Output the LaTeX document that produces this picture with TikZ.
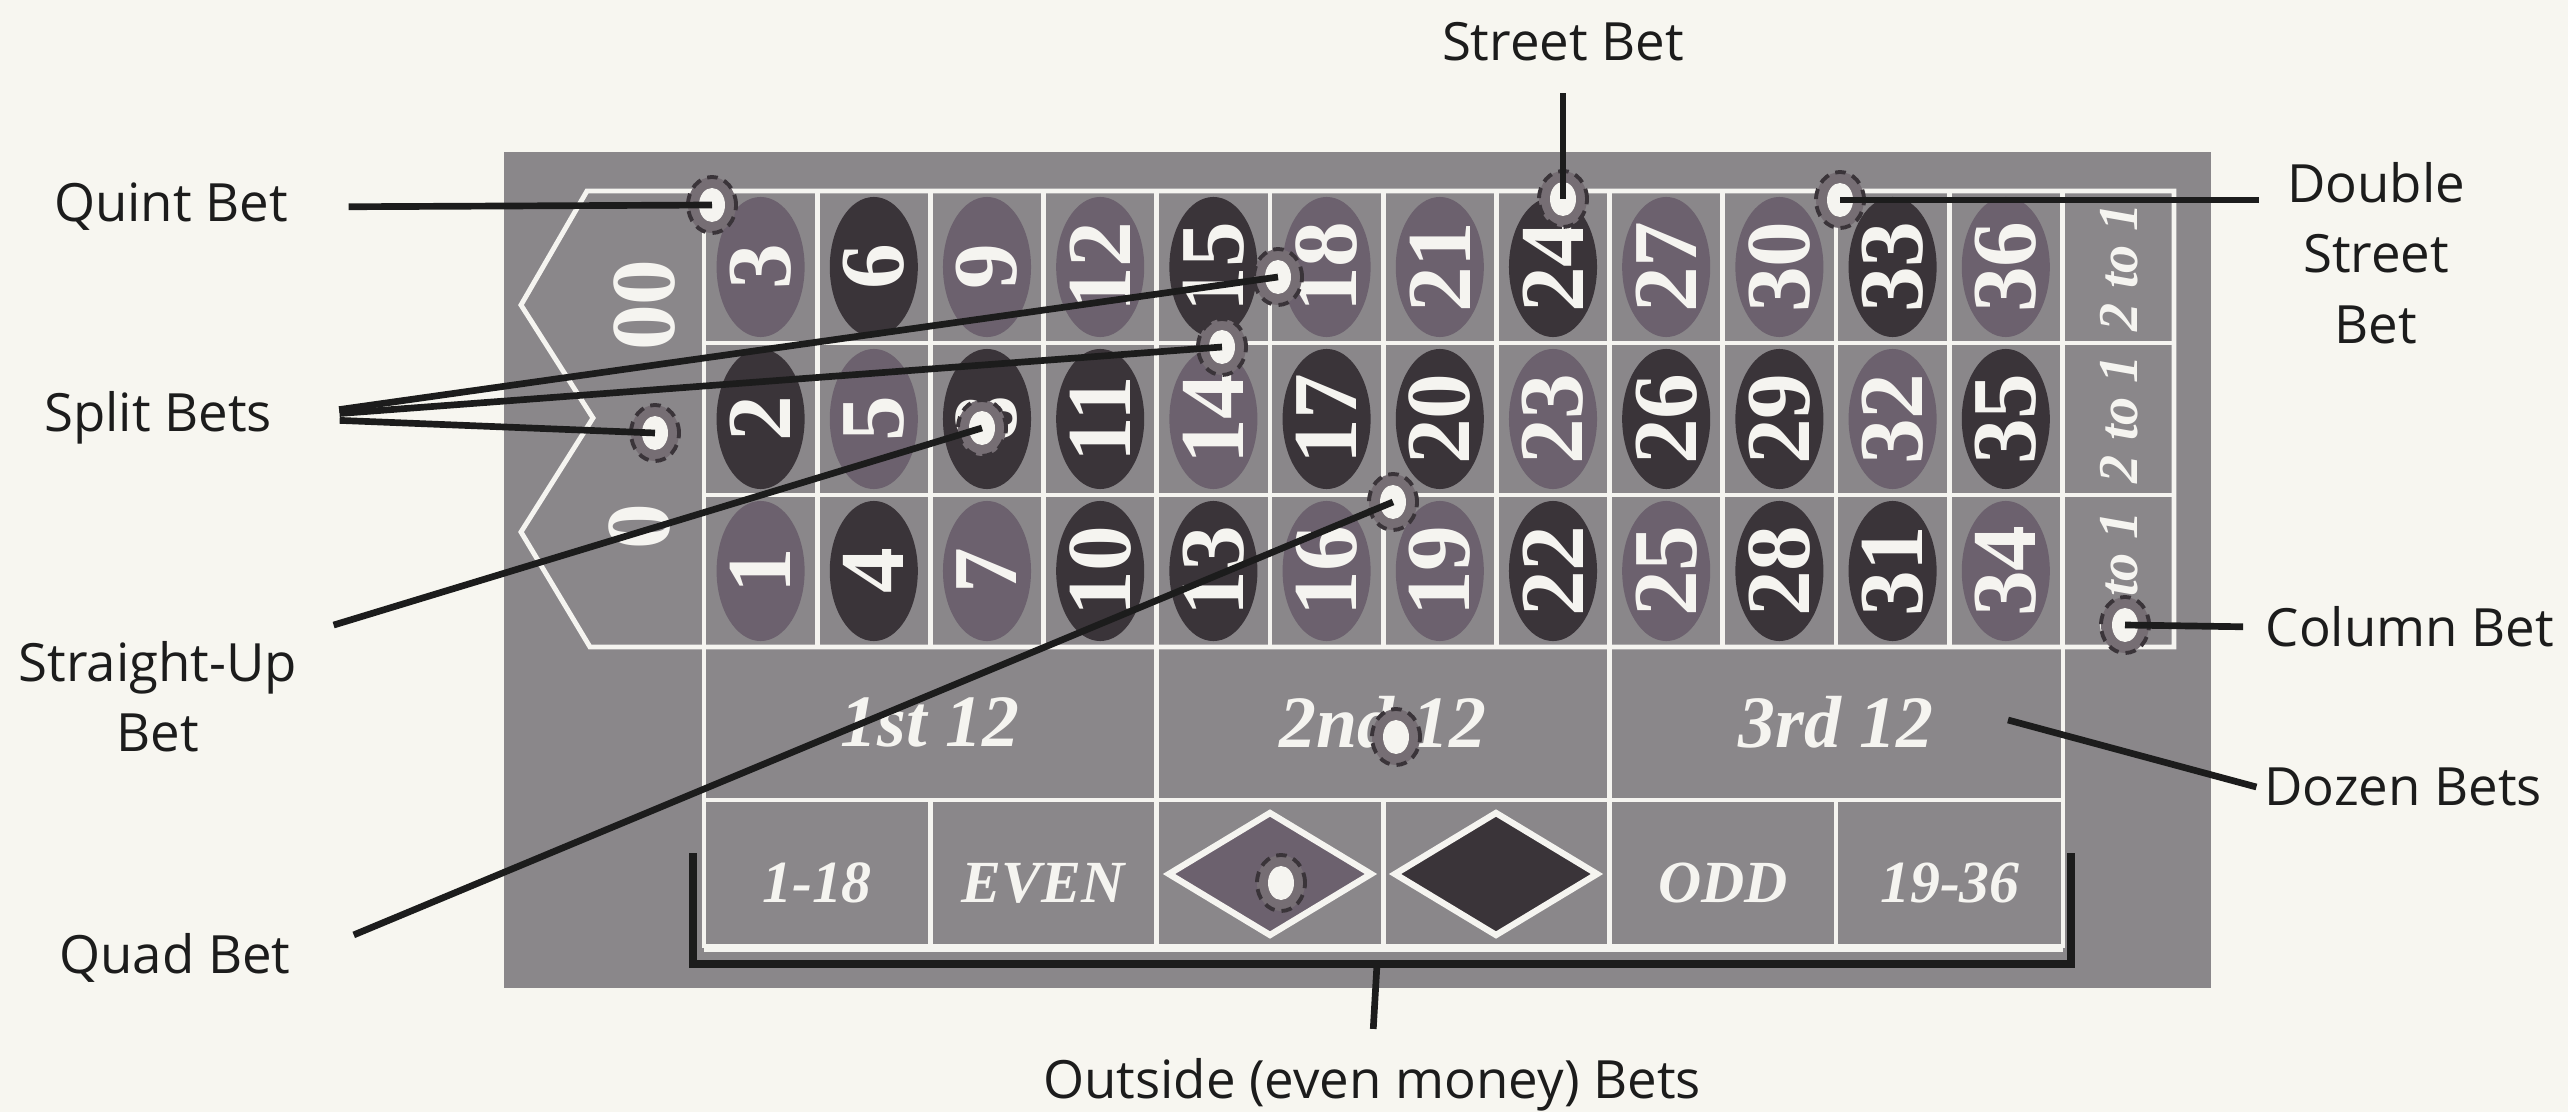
\documentclass[tikz,border=0pt]{standalone}
\usepackage{fontspec}
\setmainfont{Open Sans}
\newfontfamily\pipfont{Liberation Serif}
\usetikzlibrary{shapes.geometric}
\definecolor{paper}{RGB}{247,246,240}
\definecolor{felt}{RGB}{138,135,138}
\definecolor{redpip}{RGB}{108,97,110}
\definecolor{blackpip}{RGB}{58,52,57}
\definecolor{chalk}{RGB}{245,244,240}
\definecolor{ink}{RGB}{28,28,28}
\definecolor{chipring}{RGB}{118,110,116}

\begin{document}
\begin{tikzpicture}[x=0.01cm,y=-0.01cm,
  lbl/.style={text=ink,font=\fontsize{15}{20}\selectfont,align=center,inner sep=2pt},
  lead/.style={draw=ink,line width=1.9pt},
  chalkline/.style={draw=chalk,line width=1.4pt},
  pip/.style={ellipse,rotate=90,minimum width=1.4cm,minimum height=0.88cm,inner sep=0pt,
    text=chalk,font=\pipfont\bfseries\fontsize{26}{26}\selectfont},
  cell/.style={text=chalk,inner sep=1pt,font=\pipfont\bfseries\itshape\fontsize{#1}{#1}\selectfont},
  chip/.style={ellipse,minimum width=0.48cm,minimum height=0.56cm,inner sep=0pt,
    fill=chipring,draw=blackpip,densely dashed,line width=1.1pt,
    path picture={\fill[chalk] (path picture bounding box.center) ellipse [x radius=0.13cm,y radius=0.17cm];}}]
  \fill[paper] (0,0) rectangle (2568,1112);
  \useasboundingbox (0,0) rectangle (2568,1112);
  \fill[felt] (504,152) rectangle (2211,988);

  % zero pockets and inside grid
  \draw[chalkline,line join=miter] (2174,191) -- (587,191) -- (521,305) -- (593,418)
    -- (521,532) -- (590,647) -- (2174,647) -- cycle;
  \draw[chalkline] (704,191) -- (704,948);
  \draw[chalkline] (2063,647) -- (2063,948);
  \foreach \k in {1,...,12}
    \draw[chalkline] ({704+113.2*\k},191) -- ({704+113.2*\k},647);
  \foreach \y in {343,495}
    \draw[chalkline] (704,\y) -- (2174,\y);

  % dozens and even money rows
  \foreach \k in {1,2}
    \draw[chalkline] ({704+452.8*\k},647) -- ({704+452.8*\k},800);
  \draw[chalkline] (704,800) -- (2063,800);
  \foreach \k in {1,...,5}
    \draw[chalkline] ({704+226.4*\k},800) -- ({704+226.4*\k},948);
  \draw[chalk,line width=2.2pt] (704,948) -- (2063,948);

  % numbers
  \foreach \n/\f in {1/redpip,2/blackpip,3/redpip,4/blackpip,5/redpip,6/blackpip,
      7/redpip,8/blackpip,9/redpip,10/blackpip,11/blackpip,12/redpip,
      13/blackpip,14/redpip,15/blackpip,16/redpip,17/blackpip,18/redpip,
      19/redpip,20/blackpip,21/redpip,22/blackpip,23/redpip,24/blackpip,
      25/redpip,26/blackpip,27/redpip,28/blackpip,29/blackpip,30/redpip,
      31/blackpip,32/redpip,33/blackpip,34/redpip,35/blackpip,36/redpip} {
    \pgfmathsetmacro\px{704+113.2*(ceil(\n/3)-0.5)}
    \pgfmathsetmacro\py{571-152*mod(\n-1,3)}
    \node[pip,fill=\f] (p\n) at (\px,\py) {\n};
  }
  \node[text=chalk,rotate=90,font=\pipfont\bfseries\fontsize{26}{26}\selectfont] (z00) at (645,305) {00};
  \node[text=chalk,rotate=90,font=\pipfont\bfseries\fontsize{26}{26}\selectfont] (z0) at (640,527) {0};
  \foreach \y [count=\i] in {267,419,575}
    \node[cell=16,rotate=90] (col\i) at (2119,\y) {2 to 1};

  \node[cell=21] (d1) at (930,722) {1st 12};
  \node[cell=21] (d2) at (1383,722) {2nd 12};
  \node[cell=21] (d3) at (1836,722) {3rd 12};
  \foreach \t/\x [count=\i] in {1-18/817,EVEN/1043,ODD/1723,19-36/1950}
    \node[cell=17] (o\i) at (\x,883) {\t};
  \draw[chalk,line width=1.8pt,fill=redpip] (1270,813) -- (1371,874) -- (1270,935) -- (1169,874) -- cycle;
  \draw[chalk,line width=1.8pt,fill=blackpip] (1496,813) -- (1597,874) -- (1496,935) -- (1395,874) -- cycle;

  % chips
  \node[chip] (cquint) at (712,205) {};
  \node[chip] (cstreet) at (1563,199) {};
  \node[chip] (cdouble) at (1840,200) {};
  \node[chip] (csplita) at (1278,277) {};
  \node[chip] (csplitb) at (1222,347) {};
  \node[chip] (csplitc) at (655,433) {};
  \node[chip] (cstraight) at (982,428) {};
  \node[chip] (cquad) at (1393,502) {};
  \node[chip] (ccolumn) at (2125,625) {};
  \node[chip] (cdozen) at (1396,737) {};
  \node[chip] (ceven) at (1281,883) {};

  % labels
  \node[lbl] (lquint) at (171,207) {Quint Bet};
  \node[lbl] (lsplit) at (158,418) {Split Bets};
  \node[lbl] (lstraight) at (158,697) {Straight-Up\\Bet};
  \node[lbl] (lquad) at (175,958) {Quad Bet};
  \node[lbl] (lstreet) at (1563,42) {Street Bet};
  \node[lbl] (ldouble) at (2376,253) {Double\\Street\\Bet};
  \node[lbl] (lcolumn) at (2410,627) {Column Bet};
  \node[lbl] (ldozen) at (2403,787) {Dozen Bets};
  \node[lbl] (loutside) at (1372,1085) {Outside (even money) Bets};

  % leaders
  \draw[lead,shorten <=0.53cm] (lquint.east) -- (cquint.center);
  \foreach \c in {csplita,csplitb,csplitc}
    \draw[lead,shorten <=0.6cm] (lsplit.east) -- (\c.center);
  \draw[lead,shorten <=0.3cm] (lstraight.north east) -- (cstraight.center);
  \draw[lead,shorten <=0.6cm] (lquad.east) -- (cquad.center);
  \draw[lead,shorten <=0.24cm] (lstreet.south) -- (cstreet.center);
  \draw[lead,shorten >=0.2cm] (cdouble.center) -- (cdouble -| ldouble.west);
  \draw[lead,shorten >=0.15cm] (ccolumn.center) -- (lcolumn.west);
  \coordinate (pdozen) at (2008,720);
  \draw[lead] (pdozen) -- (ldozen.west);

  % even money bracket
  \draw[lead,line width=2.4pt] (693,853) |- (1382,964) -| (2071,853);
  \coordinate (bmid) at (1377,964);
  \draw[lead,shorten >=0.22cm] (bmid) -- (loutside.north);
\end{tikzpicture}
\end{document}
